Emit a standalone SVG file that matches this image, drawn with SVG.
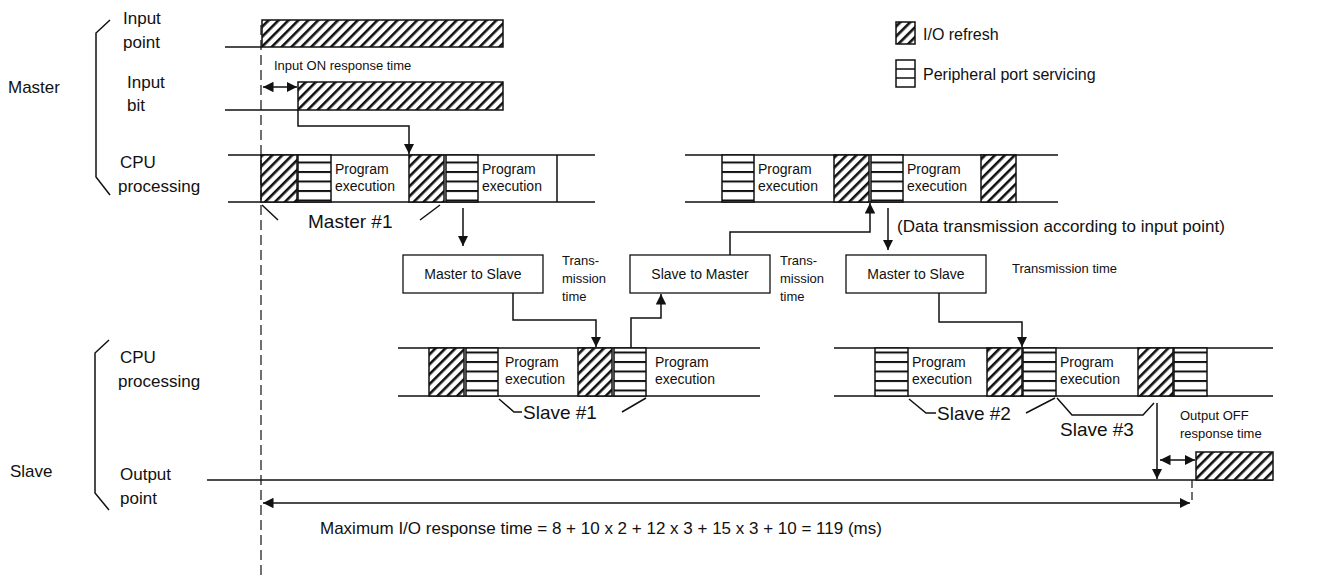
<svg xmlns="http://www.w3.org/2000/svg" width="1329" height="585" viewBox="0 0 1329 585">
<style>
text{font-family:"Liberation Sans",Arial,sans-serif;fill:#111}
.l{stroke:#111;stroke-width:1.5;fill:none}
.h{fill:url(#hatch);stroke:#111;stroke-width:1.5}
.s{fill:url(#stripe);stroke:#111;stroke-width:1.5}
.box{fill:#fff;stroke:#111;stroke-width:1.3}
.t13{font-size:13px}.t14{font-size:14px}.t16{font-size:16px}.t17{font-size:17px}.t18{font-size:19px}
</style>
<defs>
<pattern id="hatch" width="7" height="7" patternUnits="userSpaceOnUse" patternTransform="rotate(45)">
<rect width="7" height="7" fill="#fff"/><rect x="0" y="0" width="2.6" height="7" fill="#111"/>
</pattern>
<pattern id="stripe" width="10" height="9.5" patternUnits="userSpaceOnUse" y="0">
<rect width="10" height="9.5" fill="#fff"/><rect y="0" width="10" height="2" fill="#111"/>
</pattern>
<marker id="a" viewBox="0 0 10 10" refX="10" refY="5" markerWidth="7" markerHeight="7" orient="auto-start-reverse"><path d="M0,0L10,5L0,10z" fill="#111"/></marker>
</defs>
<g id="labels">
<text class="t17" x="8" y="93">Master</text>
<text class="t17" x="123" y="24">Input</text><text class="t17" x="123" y="48">point</text>
<text class="t17" x="127" y="88">Input</text><text class="t17" x="127" y="111">bit</text>
<text class="t17" x="120" y="168">CPU</text><text class="t17" x="118" y="192">processing</text>
<text class="t17" x="10" y="477">Slave</text>
<text class="t17" x="120" y="363">CPU</text><text class="t17" x="118" y="387">processing</text>
<text class="t17" x="120" y="480">Output</text><text class="t17" x="120" y="504">point</text>
<path class="l" d="M110,20L96,33V177L110,195" stroke-width="2"/>
<path class="l" d="M109,340L95,353V493L109,510" stroke-width="2"/>
</g>
<g id="legend">
<rect class="h" x="896" y="22" width="19" height="22"/><text class="t16" x="923" y="40">I/O refresh</text>
<rect x="896" y="60" width="19" height="27" fill="#fff" stroke="#111" stroke-width="1.5"/>
<path class="l" d="M896,69H915M896,78H915"/>
<text class="t16" x="923" y="80">Peripheral port servicing</text>
</g>
<g id="input-point">
<path class="l" d="M225,47H262"/><rect class="h" x="262" y="20" width="241" height="27"/>
</g>
<g id="input-bit">
<path class="l" d="M225,110H298"/><rect class="h" x="298" y="82" width="205" height="28"/>
<text class="t13" x="274" y="70">Input ON response time</text>
</g>
<g id="master-cpu-1">
<path class="l" d="M228,155H595M228,202H595M557,155V202"/>
<rect class="h" x="261" y="155" width="36" height="47"/><rect class="s" x="298" y="155" width="33" height="47"/>
<text class="t14" x="335" y="174">Program</text><text class="t14" x="335" y="191">execution</text>
<rect class="h" x="409" y="155" width="35" height="47"/><rect class="s" x="446" y="155" width="32" height="47"/>
<text class="t14" x="482" y="174">Program</text><text class="t14" x="482" y="191">execution</text>
<path class="l" d="M262,205L278,220M420,220L440,205"/>
<text class="t18" x="308" y="228">Master #1</text>
</g>
<g id="master-cpu-2">
<path class="l" d="M685,155H1058M685,202H1058"/>
<rect class="s" x="722" y="155" width="32" height="47"/>
<text class="t14" x="758" y="174">Program</text><text class="t14" x="758" y="191">execution</text>
<rect class="h" x="834" y="155" width="35" height="47"/><rect class="s" x="871" y="155" width="32" height="47"/>
<text class="t14" x="907" y="174">Program</text><text class="t14" x="907" y="191">execution</text>
<rect class="h" x="981" y="155" width="35" height="47"/>
<text class="t17" x="897" y="232">(Data transmission according to input point)</text>
</g>
<g id="box1"><rect class="box" x="403" y="255" width="140" height="38"/><text class="t14" x="473" y="279" text-anchor="middle">Master to Slave</text>
<text class="t13" x="562" y="265">Trans-</text><text class="t13" x="562" y="283">mission</text><text class="t13" x="562" y="301">time</text></g>
<g id="box2"><rect class="box" x="630" y="255" width="140" height="38"/><text class="t14" x="700" y="279" text-anchor="middle">Slave to Master</text>
<text class="t13" x="780" y="265">Trans-</text><text class="t13" x="780" y="283">mission</text><text class="t13" x="780" y="301">time</text></g>
<g id="box3"><rect class="box" x="846" y="255" width="140" height="38"/><text class="t14" x="916" y="279" text-anchor="middle">Master to Slave</text>
<text class="t13" x="1012" y="273">Transmission time</text></g>
<g id="slave-cpu-1">
<path class="l" d="M398,348H760M398,396H760"/>
<rect class="h" x="429" y="348" width="35" height="48"/><rect class="s" x="466" y="348" width="32" height="48"/>
<text class="t14" x="505" y="367">Program</text><text class="t14" x="505" y="384">execution</text>
<rect class="h" x="578" y="348" width="34" height="48"/><rect class="s" x="614" y="348" width="32" height="48"/>
<text class="t14" x="655" y="367">Program</text><text class="t14" x="655" y="384">execution</text>
<path class="l" d="M499,399L514,412H522M622,412L646,398"/>
<text class="t18" x="523" y="419">Slave #1</text>
</g>
<g id="slave-cpu-2">
<path class="l" d="M834,348H1273M834,396H1273"/>
<rect class="s" x="875" y="348" width="33" height="48"/>
<text class="t14" x="912" y="367">Program</text><text class="t14" x="912" y="384">execution</text>
<rect class="h" x="987" y="348" width="35" height="48"/><rect class="s" x="1023" y="348" width="33" height="48"/>
<text class="t14" x="1060" y="367">Program</text><text class="t14" x="1060" y="384">execution</text>
<rect class="h" x="1138" y="348" width="35" height="48"/><rect class="s" x="1174" y="348" width="33" height="48"/>
<path class="l" d="M909,399L926,413H936M1026,413L1055,398M1057,398L1072,415H1143L1154,403"/>
<text class="t18" x="937" y="420">Slave #2</text>
<text class="t18" x="1060" y="436">Slave #3</text>
<text class="t13" x="1180" y="420">Output OFF</text><text class="t13" x="1180" y="438">response time</text>
</g>
<g id="output-point">
<path class="l" d="M207,480H1273"/><rect class="h" x="1196" y="452" width="77" height="28"/>
</g>
<g id="connectors">
<path d="M261,25V580" stroke="#111" stroke-width="1.2" stroke-dasharray="10,5" fill="none"/>
<path d="M1192,480V500" stroke="#111" stroke-width="1.2" stroke-dasharray="8,4" fill="none"/>
<path class="l" d="M263,87H297" marker-start="url(#a)" marker-end="url(#a)"/>
<path class="l" d="M298,110V126H409V154" marker-end="url(#a)"/>
<path class="l" d="M463,208V246" marker-end="url(#a)"/>
<path class="l" d="M513,293V320H596V347" marker-end="url(#a)"/>
<path class="l" d="M631,348V318H661V294" marker-end="url(#a)"/>
<path class="l" d="M730,255V232H870V203" marker-end="url(#a)"/>
<path class="l" d="M888,208V250" marker-end="url(#a)"/>
<path class="l" d="M939,293V322H1022V347" marker-end="url(#a)"/>
<path class="l" d="M1157,403V479" marker-end="url(#a)"/>
<path class="l" d="M1160,460H1195" marker-start="url(#a)" marker-end="url(#a)"/>
<path class="l" d="M263,503H1190" marker-start="url(#a)" marker-end="url(#a)"/>
<text class="t17" x="320" y="534">Maximum I/O response time = 8 + 10 x 2 + 12 x 3 + 15 x 3 + 10 = 119 (ms)</text>
</g>
</svg>
